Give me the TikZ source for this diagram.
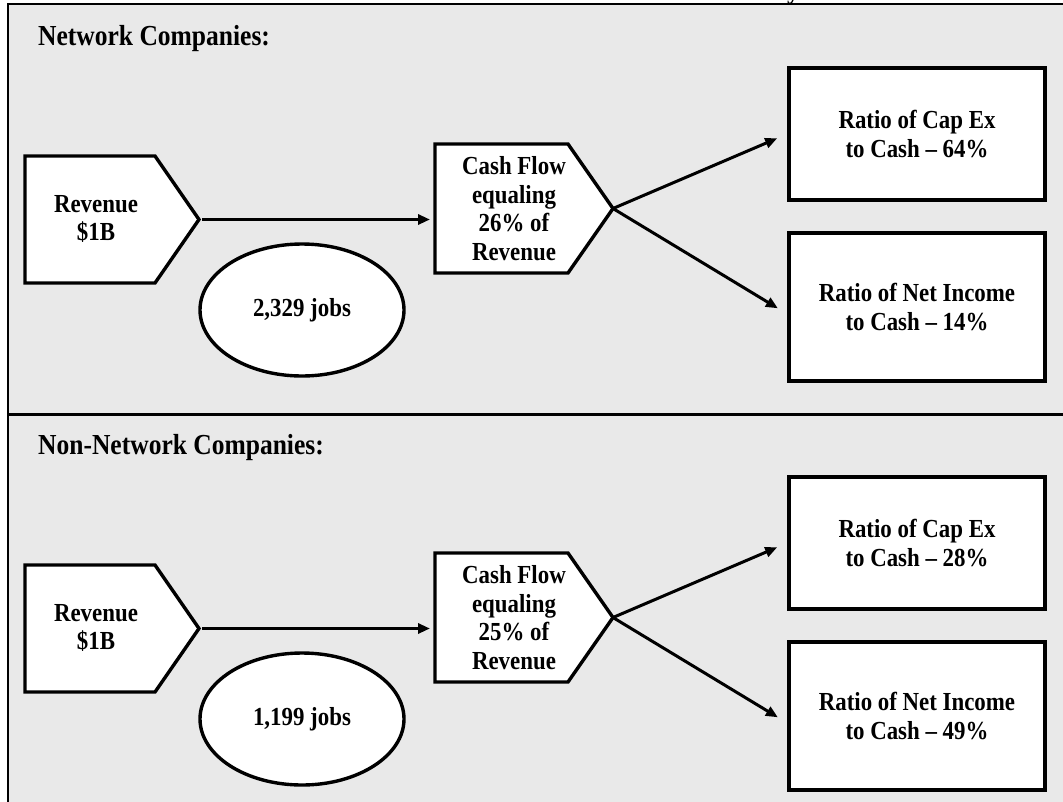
\documentclass[tikz,border=0pt]{standalone}
\usepackage{fontspec}
\setmainfont{Liberation Serif}[FakeStretch=0.88]
\usetikzlibrary{arrows.meta,shapes.geometric,calc}
\pgfdeclarelayer{back}
\pgfsetlayers{back,main}
\definecolor{panel}{RGB}{233,233,233}

\tikzset{
  label text/.style={font=\bfseries\fontsize{26}{28.5}\selectfont, align=center, inner sep=0pt},
  heading/.style={font=\bfseries\fontsize{29}{32}\selectfont, inner sep=0pt, anchor=base west},
  shape line/.style={draw=black, line width=3.4pt, fill=white, line join=miter},
  ratio box/.style={label text, shape line, minimum width=256pt, minimum height=#1},
  jobs oval/.style={label text, shape line, ellipse, minimum width=204pt, minimum height=132pt},
  flow/.style={line width=3pt, -{Triangle[length=12pt,width=10pt]}},
  frame/.style={line width=2pt}
}

\begin{document}
\begin{tikzpicture}[x=1pt, y=-1pt]
\useasboundingbox (0,0) rectangle (1063,801);

\begin{pgfonlayer}{back}
  \fill[white] (0,0) rectangle (1063,801);
  \fill[panel] (7,4) rectangle (1075,810);
\end{pgfonlayer}

% outer frame and section divider
\draw[frame] (8,815) -- (8,4) -- (1075,4);
\draw[line width=3pt] (7,414) -- (1075,414);

% tail of the heading above the panel
\node[font=\bfseries\fontsize{29}{32}\selectfont, inner sep=0pt, anchor=base west] (ytail) at (787,-2) {y};

% ---------------- first section ----------------
\begin{scope}[name prefix=net-]
  \node[heading] (title) at (38,45) {Network Companies:};

  % Revenue pentagon
  \coordinate (revNW) at (25,156);
  \coordinate (revNE) at (155,156);
  \coordinate (revtip) at (199,219.5);
  \coordinate (revSE) at (155,283);
  \coordinate (revSW) at (25,283);
  \begin{pgfonlayer}{back}
    \draw[shape line] (revNW) -- (revNE) -- (revtip) -- (revSE) -- (revSW) -- cycle;
  \end{pgfonlayer}
  \node[label text] (rev) at (96,219) {Revenue\\\$1B};

  % Cash flow pentagon
  \coordinate (cashNW) at (435,144);
  \coordinate (cashNE) at (568,144);
  \coordinate (cashtip) at (613,208.5);
  \coordinate (cashSE) at (568,273);
  \coordinate (cashSW) at (435,273);
  \begin{pgfonlayer}{back}
    \draw[shape line] (cashNW) -- (cashNE) -- (cashtip) -- (cashSE) -- (cashSW) -- cycle;
  \end{pgfonlayer}
  \node[label text] (cash) at (514,208.5) {Cash Flow\\equaling\\26\% of\\Revenue};

  \node[ratio box=132pt] (capex) at (917,134) {Ratio of Cap Ex\\to Cash -- 64\%};
  \node[ratio box=148pt] (netinc) at (917,307) {Ratio of Net Income\\to Cash -- 14\%};
  \node[jobs oval] (jobs) at (302,310) {2,329 jobs};

  \draw[flow, shorten <=3pt, shorten >=5pt] (revtip) -- (revtip -| cashSW);
  \draw[flow, shorten >=11pt] (cashtip) -- (capex.west);
  \draw[flow, shorten >=11pt] (cashtip) -- ($(netinc.west)+(0,7)$);
\end{scope}

% ---------------- second section ----------------
\begin{scope}[name prefix=non-, shift={(0,409)}]
  \node[heading] (title) at (38,45) {Non-Network Companies:};

  \coordinate (revNW) at (25,156);
  \coordinate (revNE) at (155,156);
  \coordinate (revtip) at (199,219.5);
  \coordinate (revSE) at (155,283);
  \coordinate (revSW) at (25,283);
  \begin{pgfonlayer}{back}
    \draw[shape line] (revNW) -- (revNE) -- (revtip) -- (revSE) -- (revSW) -- cycle;
  \end{pgfonlayer}
  \node[label text] (rev) at (96,219) {Revenue\\\$1B};

  \coordinate (cashNW) at (435,144);
  \coordinate (cashNE) at (568,144);
  \coordinate (cashtip) at (613,208.5);
  \coordinate (cashSE) at (568,273);
  \coordinate (cashSW) at (435,273);
  \begin{pgfonlayer}{back}
    \draw[shape line] (cashNW) -- (cashNE) -- (cashtip) -- (cashSE) -- (cashSW) -- cycle;
  \end{pgfonlayer}
  \node[label text] (cash) at (514,208.5) {Cash Flow\\equaling\\25\% of\\Revenue};

  \node[ratio box=132pt] (capex) at (917,134) {Ratio of Cap Ex\\to Cash -- 28\%};
  \node[ratio box=148pt] (netinc) at (917,307) {Ratio of Net Income\\to Cash -- 49\%};
  \node[jobs oval] (jobs) at (302,310) {1,199 jobs};

  \draw[flow, shorten <=3pt, shorten >=5pt] (revtip) -- (revtip -| cashSW);
  \draw[flow, shorten >=11pt] (cashtip) -- (capex.west);
  \draw[flow, shorten >=11pt] (cashtip) -- ($(netinc.west)+(0,7)$);
\end{scope}
\end{tikzpicture}
\end{document}
